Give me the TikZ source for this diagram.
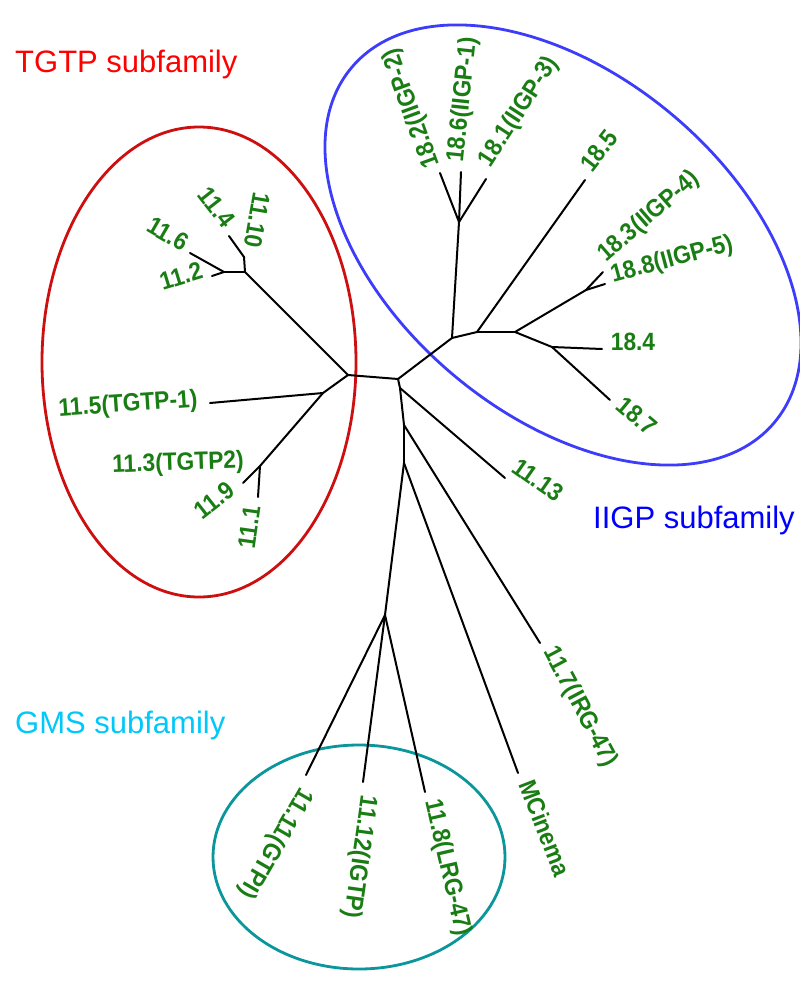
\documentclass[tikz,border=0pt]{standalone}
\usepackage{fontspec}
\setmainfont{Liberation Sans}
\definecolor{labgreen}{RGB}{25,125,20}
\definecolor{ellred}{RGB}{205,15,15}
\definecolor{ellblue}{RGB}{60,60,250}
\definecolor{ellteal}{RGB}{10,150,155}
\definecolor{txtred}{RGB}{255,0,0}
\definecolor{txtblue}{RGB}{0,0,255}
\definecolor{txtcyan}{RGB}{0,200,250}
\newcommand{\lbtxt}[1]{\scalebox{0.91}[1]{#1}}
\begin{document}
\begin{tikzpicture}[x=1pt,y=1pt,
  br/.style={draw=black,line width=2pt,line cap=round,line join=round},
  lab/.style={text=labgreen,font=\bfseries\fontsize{25}{25}\selectfont,inner sep=0pt,anchor=center},
  fam/.style={font=\fontsize{31}{31}\selectfont,inner sep=0pt,anchor=base west},
  ell/.style={line width=2.8pt}]
\useasboundingbox (0,0) rectangle (800,-990);
\fill[white] (0,0) rectangle (800,-990);
% subfamily ellipses
\draw[ell,ellred] (199,-362) ellipse [x radius=157, y radius=235];
\draw[ell,ellblue,rotate around={-40:(563,-245)}] (563,-245) ellipse [x radius=276, y radius=170];
\draw[ell,ellteal] (359,-857) ellipse [x radius=146, y radius=112];
% tree coordinates
\coordinate (L) at (348,-375);
\coordinate (R) at (398,-379);
\coordinate (nL1) at (323,-393);
\coordinate (nL2) at (260,-466);
\coordinate (t115) at (210,-403);
\coordinate (t119) at (243,-483);
\coordinate (t111) at (258,-497);
\coordinate (nT) at (245,-272);
\coordinate (nT2) at (224,-272);
\coordinate (nT3) at (244,-257);
\coordinate (t114) at (229,-236);
\coordinate (t116) at (190,-253);
\coordinate (t112) at (212,-276);
\coordinate (nR1) at (452,-338);
\coordinate (nR2) at (459,-222);
\coordinate (t182) at (440,-173);
\coordinate (t186) at (461,-172);
\coordinate (t181) at (486,-179);
\coordinate (nR3) at (477,-332);
\coordinate (t185) at (585,-180);
\coordinate (nR4) at (515,-332);
\coordinate (nR5) at (586,-290);
\coordinate (t183) at (603,-272);
\coordinate (t188) at (605,-284);
\coordinate (nR6) at (552,-347);
\coordinate (t184) at (602,-349);
\coordinate (t187) at (610,-400);
\coordinate (nD1) at (400,-388);
\coordinate (t1113) at (505,-478);
\coordinate (nD2) at (404,-425);
\coordinate (t117) at (540,-643);
\coordinate (nD3) at (404,-463);
\coordinate (tMC) at (518,-773);
\coordinate (nG) at (385,-615);
\coordinate (t1111) at (306,-775);
\coordinate (t1112) at (363,-782);
\coordinate (t118) at (425,-792);
% branches
\draw[br] (L) -- (R);
\draw[br] (L) -- (nL1);
\draw[br] (nL1) -- (t115);
\draw[br] (nL1) -- (nL2);
\draw[br] (nL2) -- (t119);
\draw[br] (nL2) -- (t111);
\draw[br] (L) -- (nT);
\draw[br] (nT) -- (nT2);
\draw[br] (nT2) -- (t116);
\draw[br] (nT2) -- (t112);
\draw[br] (nT) -- (nT3);
\draw[br] (nT3) -- (t114);
\draw[br] (R) -- (nR1);
\draw[br] (nR1) -- (nR2);
\draw[br] (nR2) -- (t182);
\draw[br] (nR2) -- (t186);
\draw[br] (nR2) -- (t181);
\draw[br] (nR1) -- (nR3);
\draw[br] (nR3) -- (t185);
\draw[br] (nR3) -- (nR4);
\draw[br] (nR4) -- (nR5);
\draw[br] (nR5) -- (t183);
\draw[br] (nR5) -- (t188);
\draw[br] (nR4) -- (nR6);
\draw[br] (nR6) -- (t184);
\draw[br] (nR6) -- (t187);
\draw[br] (R) -- (nD1);
\draw[br] (nD1) -- (t1113);
\draw[br] (nD1) -- (nD2);
\draw[br] (nD2) -- (t117);
\draw[br] (nD2) -- (nD3);
\draw[br] (nD3) -- (tMC);
\draw[br] (nD3) -- (nG);
\draw[br] (nG) -- (t1111);
\draw[br] (nG) -- (t1112);
\draw[br] (nG) -- (t118);
% leaf labels
\node[lab,rotate=110] (l182) at (412,-108) {\lbtxt{18.2(IIGP-2)}};
\node[lab,rotate=84] (l186) at (463,-100) {\lbtxt{18.6(IIGP-1)}};
\node[lab,rotate=57] (l181) at (519,-112) {\lbtxt{18.1(IIGP-3)}};
\node[lab,rotate=52] (l185) at (599,-151) {\lbtxt{18.5}};
\node[lab,rotate=41] (l183) at (649,-217) {\lbtxt{18.3(IIGP-4)}};
\node[lab,rotate=15] (l188) at (672,-260) {\lbtxt{18.8(IIGP-5)}};
\node[lab] (l184) at (633,-342) {\lbtxt{18.4}};
\node[lab,rotate=-40] (l187) at (637,-416) {\lbtxt{18.7}};
\node[lab,rotate=-35] (l1113) at (538,-480) {\lbtxt{11.13}};
\node[lab,rotate=-62] (l117) at (580,-707) {\lbtxt{11.7(IRG-47)}};
\node[lab,rotate=-69] (lMC) at (545,-828) {\lbtxt{MCinema}};
\node[lab,rotate=-77] (l118) at (447,-868) {\lbtxt{11.8(LRG-47)}};
\node[lab,rotate=-98] (l1112) at (359,-857) {\lbtxt{11.12(IGTP)}};
\node[lab,rotate=-120] (l1111) at (275,-843) {\lbtxt{11.11(GTPI)}};
\node[lab,rotate=4] (l115) at (128,-405) {\lbtxt{11.5(TGTP-1)}};
\node[lab,rotate=2] (l113) at (178,-464) {\lbtxt{11.3(TGTP2)}};
\node[lab,rotate=38] (l119) at (214,-500) {\lbtxt{11.9}};
\node[lab,rotate=82] (l111) at (249,-527) {\lbtxt{11.1}};
\node[lab,rotate=17] (l112) at (181,-276) {\lbtxt{11.2}};
\node[lab,rotate=-30] (l116) at (168,-234) {\lbtxt{11.6}};
\node[lab,rotate=-52] (l114) at (217,-207) {\lbtxt{11.4}};
\node[lab,rotate=-100] (l1110) at (257,-220) {\lbtxt{11.10}};
% subfamily titles
\node[fam,text=txtred] (fTGTP) at (15,-72) {TGTP subfamily};
\node[fam,text=txtblue] (fIIGP) at (593,-528) {IIGP subfamily};
\node[fam,text=txtcyan] (fGMS) at (15,-733) {GMS subfamily};
\end{tikzpicture}
\end{document}
